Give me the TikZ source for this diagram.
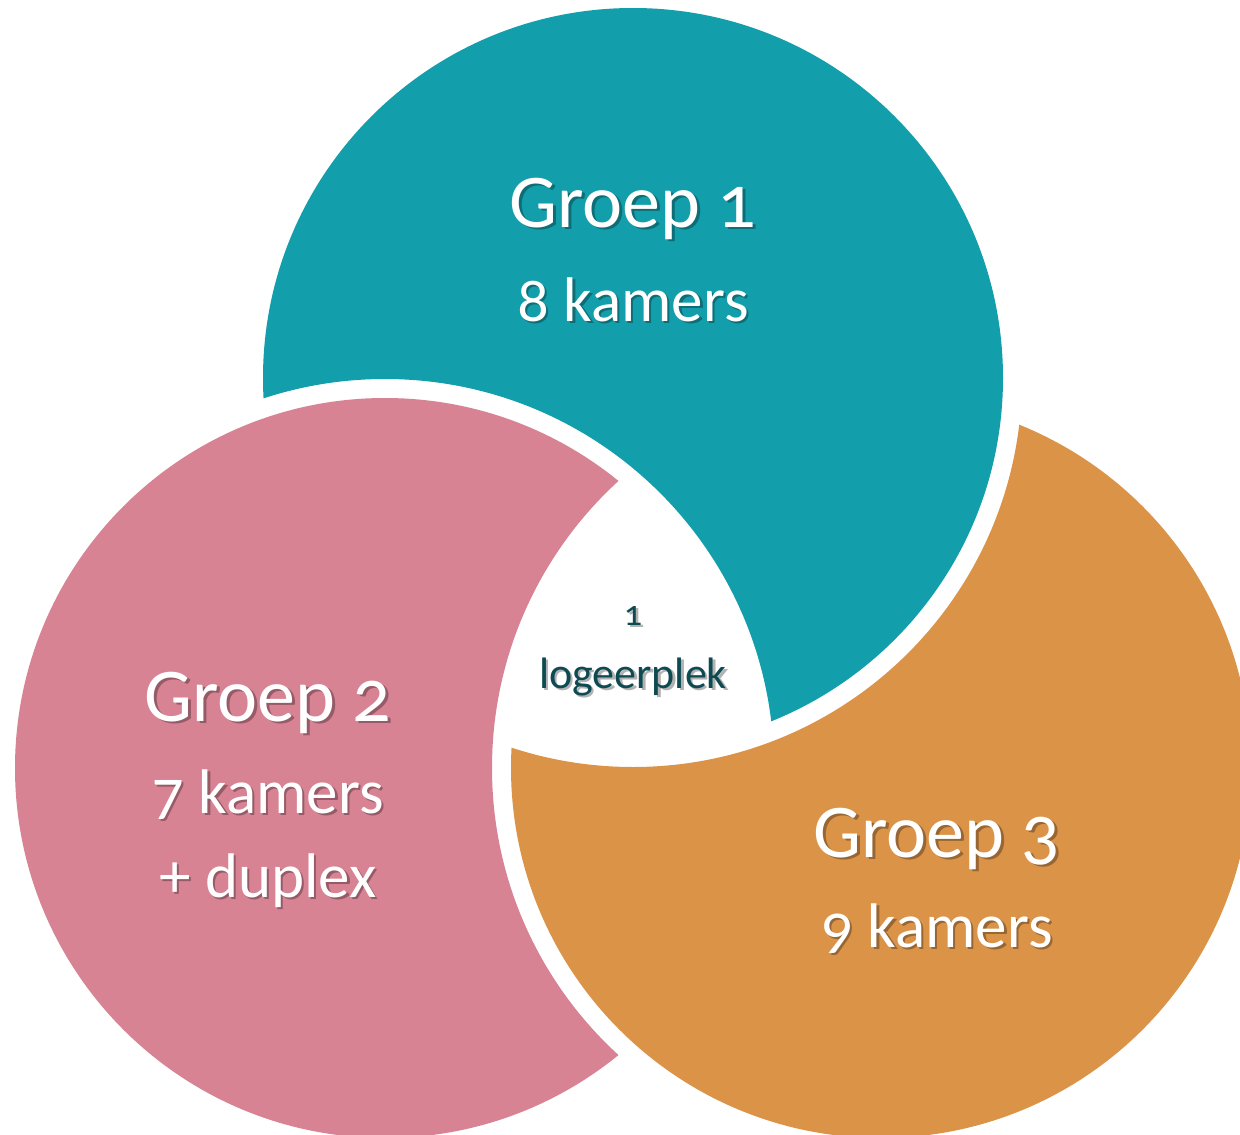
\documentclass[tikz,border=0pt]{standalone}
\usepackage{fontspec}
\setmainfont{Carlito}[Numbers=OldStyle]
\definecolor{cteal}{HTML}{139EAB}
\definecolor{cpink}{HTML}{D78393}
\definecolor{corange}{HTML}{DB9348}
\definecolor{cdark}{HTML}{0D4A52}
\newcommand\shadowlabel[6]{%
  % #1 name, #2 x, #3 y (baseline), #4 font size, #5 colour, #6 text
  \node[shd] (#1s) at (#2+2.5,#3+2.5) {\fontsize{#4}{#4}\selectfont #6};
  \node[txt, text=#5] (#1) at (#2,#3) {\fontsize{#4}{#4}\selectfont #6};
}
\begin{document}
\begin{tikzpicture}[x=1pt,y=-1pt,
  shd/.style={inner sep=0pt, anchor=base, text=black, opacity=0.3},
  txt/.style={inner sep=0pt, anchor=base}]
\useasboundingbox (0,0) rectangle (1240,1135);
\fill[white] (0,0) rectangle (1240,1135);
\def\R{370}
\def\Rg{389}
\coordinate (c1) at (633,378);
\coordinate (c2) at (385,768);
\coordinate (c3) at (881,768);
% teal: C1 minus enlarged C2
\begin{scope}
  \clip (c1) circle (\R);
  \fill[cteal, even odd rule] (-200,-200) rectangle (1500,1400) (c2) circle (\Rg);
\end{scope}
% pink: C2 minus enlarged C3
\begin{scope}
  \clip (c2) circle (\R);
  \fill[cpink, even odd rule] (-200,-200) rectangle (1500,1400) (c3) circle (\Rg);
\end{scope}
% orange: C3 minus enlarged C1
\begin{scope}
  \clip (c3) circle (\R);
  \fill[corange, even odd rule] (-200,-200) rectangle (1500,1400) (c1) circle (\Rg);
\end{scope}
\shadowlabel{g1}{633}{227}{76}{white}{Groep 1}
\shadowlabel{k1}{633}{321}{63}{white}{8 kamers}
\shadowlabel{g2}{268}{721}{76}{white}{Groep 2}
\shadowlabel{k2}{268}{813}{63}{white}{7 kamers}
\shadowlabel{d2}{268}{897}{63}{white}{+ duplex}
\shadowlabel{g3}{937}{857}{76}{white}{Groep 3}
\shadowlabel{k3}{937}{947}{63}{white}{9 kamers}
\shadowlabel{n0}{633}{625}{36}{cdark}{1}
\shadowlabel{lg}{633}{688}{44}{cdark}{logeerplek}
\end{tikzpicture}
\end{document}
